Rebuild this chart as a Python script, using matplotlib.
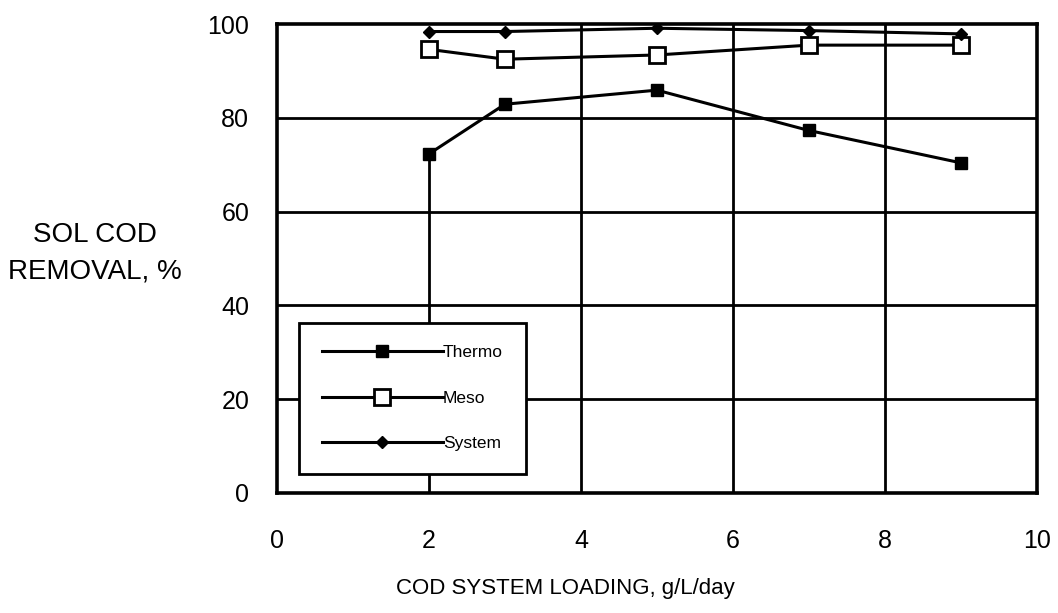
import matplotlib
matplotlib.use("Agg")
import matplotlib.pyplot as plt

plt.rcParams["font.family"] = ["Liberation Sans", "DejaVu Sans"]

# loading, g/L/day
loading = [2, 3, 5, 7, 9]
thermo = [72.3, 82.9, 85.9, 77.3, 70.4]
meso = [94.6, 92.5, 93.4, 95.5, 95.5]
system = [98.4, 98.4, 99.1, 98.6, 97.9]

x_ticks = [0, 2, 4, 6, 8, 10]
y_ticks = [0, 20, 40, 60, 80, 100]

fig = plt.figure(figsize=(10.58, 6.13), dpi=100)
ax = fig.add_axes([0.2618, 0.1958, 0.7182, 0.765])

# grid drawn by hand: the x=2 line only reaches the first Thermo point in the scan
for yv in y_ticks[1:-1]:
    ax.axhline(yv, color="black", lw=2, zorder=1)
for xv in x_ticks[2:-1]:
    ax.axvline(xv, color="black", lw=2, zorder=1)
ax.vlines(x_ticks[1], 0, thermo[0], color="black", lw=2, zorder=1)

ax.plot(loading, thermo, color="black", lw=2.2, marker="s", ms=8,
        mfc="black", mec="black", label="Thermo", zorder=3)
ax.plot(loading, meso, color="black", lw=2.2, marker="s", ms=11,
        mfc="white", mec="black", mew=2, label="Meso", zorder=3)
ax.plot(loading, system, color="black", lw=2.2, marker="D", ms=6,
        mfc="black", mec="black", label="System", zorder=3)

ax.set_xlim(0, 10)
ax.set_ylim(0, 100)
ax.set_xticks(x_ticks)
ax.set_yticks(y_ticks)
ax.tick_params(length=0, labelsize=18, colors="black")
ax.tick_params(axis="x", pad=26)
ax.tick_params(axis="y", pad=20)
for sp in ax.spines.values():
    sp.set_linewidth(2.6)
    sp.set_color("black")

leg = ax.legend(loc="lower left", bbox_to_anchor=(0.029, 0.0405),
                borderaxespad=0, fontsize=12.5, handlelength=7.0,
                handletextpad=0.0, labelspacing=1.75, borderpad=1.3,
                fancybox=False, framealpha=1, edgecolor="black")
leg.get_frame().set_linewidth(2)
leg.set_zorder(4)

fig.text(0.09, 0.587, "SOL COD\nREMOVAL, %", ha="center", va="center",
         fontsize=20, linespacing=1.5)
fig.text(0.534, 0.04, "COD SYSTEM LOADING, g/L/day", ha="center",
         va="center", fontsize=16)

plt.savefig("out.png", dpi=100)
